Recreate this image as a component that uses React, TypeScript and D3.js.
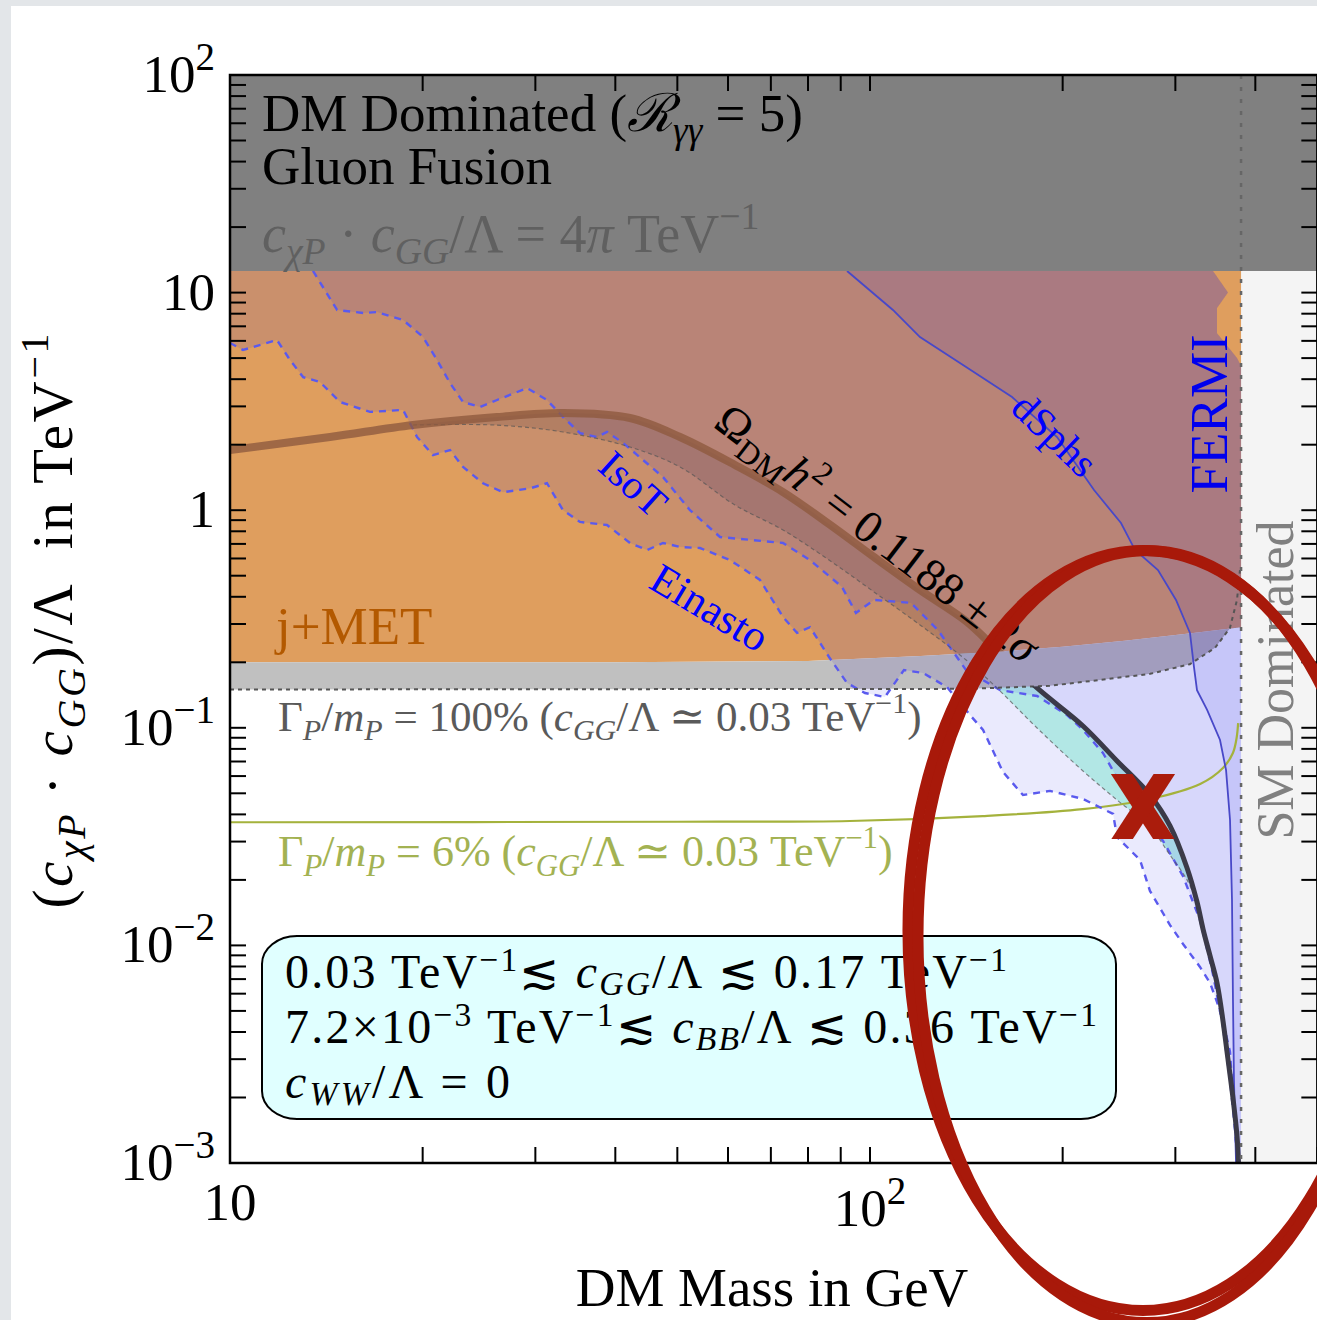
import React from 'react';
import * as d3 from 'd3';

type P = [number, number];
type Run = { t: string; i?: boolean; sub?: boolean; sup?: boolean };

// ---------------- data (mass in GeV, coupling in TeV^-1) ----------------
const xDomain: P = [10, 500];
const yDomain: P = [1e-3, 1e2];
const perturbLimit = 12.57; // 4*pi
const fermiCut = 380;

const relicLine: P[] = [
  [10, 1.891], [14.33, 2.169], [19.32, 2.464], [26.14, 2.681], [33.14, 2.797], [42.17, 2.653],
  [50.49, 2.169], [61.52, 1.613], [73.13, 1.212], [86.29, 0.864], [101.45, 0.609], [119.7, 0.43],
  [141.3, 0.3095], [157.9, 0.2278], [182.4, 0.1524], [215.2, 0.1019], [243.2, 0.0704], [273.8, 0.0491],
  [294.3, 0.0354], [312.9, 0.02268], [324.3, 0.01583], [331.4, 0.01189], [339.9, 0.00894],
  [348.5, 0.00672], [356.1, 0.00449], [362.5, 0.003005], [369.1, 0.00199], [374.5, 0.00133], [376.5, 0.001],
];
const relicBandLow: P[] = [
  [19.32, 2.464], [26.14, 2.46], [33.14, 2.287], [42.17, 1.951], [50.49, 1.579], [61.52, 1.056],
  [73.13, 0.811], [86.29, 0.59], [101.45, 0.421], [119.7, 0.297], [141.3, 0.205], [157.9, 0.1524],
  [182.4, 0.0998], [215.2, 0.0633], [243.2, 0.0466], [273.8, 0.035], [294.3, 0.026], [312.9, 0.02],
  [324.3, 0.01583],
];
const orangeBottom: P[] = [
  [10, 0.2], [40, 0.2], [80, 0.203], [120, 0.214], [160, 0.224], [200, 0.236], [250, 0.251], [320, 0.273], [380, 0.29],
];
const gammaLine: P[] = [
  [10, 0.15], [143, 0.151], [191, 0.156], [229, 0.166], [274, 0.177], [316, 0.196], [346, 0.233],
  [365, 0.287], [374.5, 0.387], [378.5, 0.53],
];
const einastoLine: P[] = [
  [10, 5.87], [10.48, 5.45], [11.84, 6.06], [12.41, 4.9], [13.01, 4.09], [13.82, 3.88], [14.86, 3.14],
  [16.55, 2.83], [18.64, 2.89], [19.6, 2.17], [20.76, 1.79], [22.07, 1.89], [23.13, 1.58], [24.85, 1.33],
  [26.7, 1.21], [29.43, 1.26], [31.28, 1.33], [33.14, 1.0], [35.23, 0.883], [38.82, 0.855], [42.17, 0.707],
  [44.83, 0.656], [47.49, 0.707], [50.49, 0.678], [54.25, 0.67], [60.43, 0.59], [67.32, 0.478],
  [73.13, 0.323], [76.9, 0.273], [80.58, 0.29], [86.29, 0.2115], [92.07, 0.1607], [98.22, 0.1445],
  [105.5, 0.1385], [113.0, 0.1843], [121.0, 0.1786], [131.9, 0.154], [143.3, 0.1145], [150.2, 0.0977],
  [161.4, 0.0626], [173.4, 0.0491], [191.1, 0.0513], [215.2, 0.0471], [239.8, 0.0402], [243.2, 0.0315],
  [264.2, 0.0247], [273.8, 0.0178], [294.3, 0.0124], [308.4, 0.01015], [327.8, 0.00796], [339.9, 0.00672],
  [348.5, 0.00549], [356.1, 0.00449], [365.2, 0.00324], [369.1, 0.00199], [374.5, 0.00109], [375.8, 0.001],
];
const isoTLine: P[] = [
  [13.48, 12.57], [14.7, 8.32], [16.14, 8.06], [16.97, 8.14], [18.64, 7.48], [20.03, 6.25], [21.06, 4.9],
  [22.07, 3.84], [23.13, 3.14], [24.58, 2.98], [26.14, 3.21], [29.12, 3.64], [31.28, 3.21], [33.14, 2.68],
  [35.23, 2.26], [37.45, 2.17], [38.82, 2.29], [41.12, 2.04], [47.49, 1.42], [52.33, 1.0], [58.3, 0.753],
  [73.13, 0.707], [80.58, 0.59], [90.42, 0.444], [95.08, 0.337], [101.45, 0.387], [115.9, 0.375],
  [127.7, 0.281], [141.3, 0.184], [159.7, 0.149], [182.4, 0.14], [203.2, 0.1145], [215.2, 0.0977],
  [231.2, 0.0766], [252.1, 0.0491], [267.1, 0.0402], [287.0, 0.0302], [308.4, 0.0208], [327.8, 0.01308],
  [342.4, 0.0077], [354.8, 0.00454], [365.2, 0.00241], [371.8, 0.00142], [375.8, 0.001],
];
const dsphsLine: P[] = [
  [92.07, 12.57], [108.6, 8.32], [119.7, 6.25], [141.3, 4.55], [166.7, 3.31], [196.0, 2.17], [223.9, 1.238],
  [246.7, 0.873], [259.5, 0.656], [281.8, 0.531], [300.7, 0.387], [316.2, 0.273], [320.8, 0.19],
  [324.3, 0.149], [336.3, 0.1208], [352.3, 0.0879], [360.0, 0.064], [365.2, 0.0377], [367.8, 0.0162],
  [369.1, 0.00561], [370.4, 0.00241], [373.2, 0.001],
];
const fermiEdge: P[] = [
  [380, 0.001], [380, 4.6], [374.5, 5.0], [348.5, 6.5], [348.5, 8.5], [362.5, 10.0], [343.5, 12.57],
];
const greenLine: P[] = [
  [10, 0.0368], [50, 0.037], [93, 0.0373], [150, 0.0393], [215, 0.0423], [274, 0.0471], [328, 0.0552],
  [356, 0.0654], [369, 0.0766], [374, 0.09], [376, 0.105],
];
const crossPoint: P = [267, 0.0433];
const circledPoint: P = [267, 0.0117];

const xTickLabels = [{ v: 10, base: '10', exp: '' }, { v: 100, base: '10', exp: '2' }];
const yTickLabels = [
  { v: 100, base: '10', exp: '2' }, { v: 10, base: '10', exp: '' }, { v: 1, base: '1', exp: '' },
  { v: 0.1, base: '10', exp: '−1' }, { v: 0.01, base: '10', exp: '−2' }, { v: 0.001, base: '10', exp: '−3' },
];

const title1: Run[] = [{ t: 'DM Dominated (' }, { t: 'ℛ', i: true }, { t: 'γγ', i: true, sub: true }, { t: ' = 5)' }];
const title2: Run[] = [{ t: 'Gluon Fusion' }];
const pertLabel: Run[] = [
  { t: 'c', i: true }, { t: 'χP', i: true, sub: true }, { t: ' · ' }, { t: 'c', i: true }, { t: 'GG', i: true, sub: true },
  { t: '/Λ = 4' }, { t: 'π', i: true }, { t: ' TeV' }, { t: '−1', sup: true },
];
const width100: Run[] = [
  { t: 'Γ' }, { t: 'P', i: true, sub: true }, { t: '/' }, { t: 'm', i: true }, { t: 'P', i: true, sub: true },
  { t: ' = 100% (' }, { t: 'c', i: true }, { t: 'GG', i: true, sub: true }, { t: '/Λ ≃ 0.03 TeV' }, { t: '−1', sup: true }, { t: ')' },
];
const width6: Run[] = [
  { t: 'Γ' }, { t: 'P', i: true, sub: true }, { t: '/' }, { t: 'm', i: true }, { t: 'P', i: true, sub: true },
  { t: ' = 6% (' }, { t: 'c', i: true }, { t: 'GG', i: true, sub: true }, { t: '/Λ ≃ 0.03 TeV' }, { t: '−1', sup: true }, { t: ')' },
];
const relicLabel: Run[] = [
  { t: 'Ω' }, { t: 'DM', sub: true }, { t: 'h', i: true }, { t: '2', sup: true }, { t: ' = 0.1188 ± 2' }, { t: 'σ', i: true },
];
const boxLines: Run[][] = [
  [{ t: '0.03 TeV' }, { t: '−1', sup: true }, { t: '≲ ' }, { t: 'c', i: true }, { t: 'GG', i: true, sub: true }, { t: '/Λ ≲ 0.17 TeV' }, { t: '−1', sup: true }],
  [{ t: '7.2×10' }, { t: '−3', sup: true }, { t: ' TeV' }, { t: '−1', sup: true }, { t: '≲ ' }, { t: 'c', i: true }, { t: 'BB', i: true, sub: true }, { t: '/Λ ≲ 0.36 TeV' }, { t: '−1', sup: true }],
  [{ t: 'c', i: true }, { t: 'WW', i: true, sub: true }, { t: '/Λ = 0' }],
];
const boxLineWidths = [722, 812, 225];
const yTitle: Run[] = [
  { t: '(' }, { t: 'c', i: true }, { t: 'χP', i: true, sub: true }, { t: ' · ' }, { t: 'c', i: true }, { t: 'GG', i: true, sub: true },
  { t: ')/Λ  in TeV' }, { t: '−1', sup: true },
];

const FONT = "'Liberation Serif','Times New Roman',Times,'DejaVu Serif',serif";

function rich(runs: Run[], fs: number, subK = 0.22, supK = 0.42) {
  let cur = 0;
  return runs.map((r, k) => {
    const target = r.sub ? subK * fs : r.sup ? -supK * fs : 0;
    const dy = target - cur;
    cur = target;
    return (
      <tspan key={k} dy={dy} fontStyle={r.i ? 'italic' : 'normal'} fontSize={r.sub || r.sup ? 0.7 * fs : fs}>
        {r.t}
      </tspan>
    );
  });
}

export default function App() {
  const X0 = 230;
  const x = d3.scaleLog().domain(xDomain).range([X0, X0 + 640 * Math.log10(xDomain[1] / xDomain[0])]);
  const y = d3.scaleLog().domain(yDomain).range([1163, 75]);
  const [xl, xr] = x.range();
  const [yb, yt] = y.range();

  const lin = d3.line<P>().x((d) => x(d[0])).y((d) => y(d[1]));
  const smooth = d3.line<P>().x((d) => x(d[0])).y((d) => y(d[1])).curve(d3.curveCatmullRom.alpha(0.5));
  const poly = (pts: P[]) => (lin(pts) as string) + 'Z';

  const orangeLowAt = d3.scaleLog().domain(orangeBottom.map((p) => p[0])).range(orangeBottom.map((p) => p[1])).clamp(true);
  const grayBottom: P[] = gammaLine.map(([m, v]) => [m, Math.min(v, orangeLowAt(m))] as P);

  const orangePoly = poly([[xDomain[0], perturbLimit], ...orangeBottom, [fermiCut, perturbLimit]]);
  const grayPoly = poly([...orangeBottom, ...grayBottom.slice().reverse()]);
  const upperZone = poly([[xDomain[0], yDomain[1]], [xDomain[1], yDomain[1]], [xDomain[1], 0.29], ...grayBottom.slice().reverse()]);
  const lowerZone = poly([...grayBottom, [xDomain[1], 0.29], [xDomain[1], yDomain[0]], [xDomain[0], yDomain[0]]]);

  const einastoPoly = poly([...einastoLine, ...fermiEdge, [xDomain[0], perturbLimit]]);
  const isoTPoly = poly([...isoTLine, ...fermiEdge]);
  const dsphsPoly = poly([...dsphsLine, ...fermiEdge]);
  const overlays = [einastoPoly, isoTPoly, dsphsPoly];

  const bandPts = relicBandLow.map(([m, lo]) => ({ m, lo, hi: (relicLine.find((p) => p[0] === m) as P)[1] }));
  const band = d3
    .area<{ m: number; lo: number; hi: number }>()
    .x((d) => x(d.m))
    .y0((d) => y(d.lo))
    .y1((d) => y(d.hi))
    .curve(d3.curveCatmullRom.alpha(0.5))(bandPts) as string;

  const xt = x.ticks();
  const yTicks = y.ticks();
  const TL = 16;

  const cx = x(crossPoint[0]);
  const cy = y(crossPoint[1]);
  const ex = x(circledPoint[0]);
  const ey = y(circledPoint[1]);

  return (
    <div>
      <style>{`body{margin:0;} svg text{white-space:pre;}`}</style>
      <svg width={1317} height={1320} style={{ display: 'block' }} fontFamily={FONT}>
        <defs>
          <clipPath id="plot"><rect x={xl} y={yt} width={xr - xl} height={yb - yt} /></clipPath>
          <clipPath id="upper"><path d={upperZone} /></clipPath>
          <clipPath id="lower"><path d={lowerZone} /></clipPath>
          <clipPath id="orange"><path d={orangePoly} /></clipPath>
          <clipPath id="xmark"><rect x={cx - 40} y={cy - 33} width={80} height={65} /></clipPath>
        </defs>
        <rect width={1317} height={1320} fill="#e3e6e9" />
        <rect x={11} y={6} width={1306} height={1314} fill="#ffffff" />

        <g clipPath="url(#plot)">
          {/* SM dominated */}
          <rect x={x(fermiCut)} y={y(perturbLimit)} width={xr - x(fermiCut)} height={yb - y(perturbLimit)} fill="#f4f4f4" />
          {/* relic band */}
          <path d={band} fill="rgb(192,252,228)" />
          {/* j+MET */}
          <path d={orangePoly} fill="#df9e5e" />
          <path d={grayPoly} fill="#c0c0c0" />
          <path d={band} fill="rgba(90,60,45,0.2)" clipPath="url(#orange)" />
          {/* indirect detection overlays */}
          <g clipPath="url(#upper)">
            {overlays.map((d, k) => (
              <path key={k} d={d} fill="rgb(85,65,190)" fillOpacity={0.15} />
            ))}
          </g>
          <g clipPath="url(#lower)">
            {overlays.map((d, k) => (
              <path key={k} d={d} fill="rgb(85,85,235)" fillOpacity={0.12} />
            ))}
          </g>
          {/* 6% width line */}
          <path d={smooth(greenLine) as string} fill="none" stroke="#a4b23c" strokeWidth={2.2} />
          {/* dashed halo profiles */}
          <path d={lin(einastoLine) as string} fill="none" stroke="#5a5aee" strokeWidth={2.4} strokeDasharray="7 6" />
          <path d={lin(isoTLine) as string} fill="none" stroke="#5a5aee" strokeWidth={2.4} strokeDasharray="7 6" />
          <path d={lin(dsphsLine) as string} fill="none" stroke="#4848c8" strokeWidth={1.8} />
          {/* width = 100% boundary */}
          <path d={lin(gammaLine) as string} fill="none" stroke="#555" strokeWidth={2} strokeDasharray="4 4" />
          {/* relic band lower edge */}
          <path d={smooth(relicBandLow) as string} fill="none" stroke="#555" strokeOpacity={0.7} strokeWidth={1.2} strokeDasharray="4 3" />
          {/* relic line */}
          <path d={smooth(relicLine) as string} fill="none" stroke="#8f5a3e" strokeOpacity={0.8} strokeWidth={8} clipPath="url(#orange)" />
          <path d={smooth(relicLine) as string} fill="none" stroke="#3b3a48" strokeWidth={5} clipPath="url(#lower)" />
          {/* DM dominated top band */}
          <rect x={xl} y={yt} width={xr - xl} height={y(perturbLimit) - yt} fill="#808080" />
          {/* fermi cut */}
          <line x1={x(fermiCut)} x2={x(fermiCut)} y1={yt} y2={yb} stroke="#666" strokeWidth={2.5} strokeDasharray="4 8" />
        </g>

        {/* frame */}
        <rect x={xl} y={yt} width={xr - xl} height={yb - yt} fill="none" stroke="#000" strokeWidth={2.5} />
        {xt.map((v, k) => (
          <g key={'xt' + k}>
            <line x1={x(v)} x2={x(v)} y1={yb} y2={yb - TL} stroke="#000" strokeWidth={2} />
            <line x1={x(v)} x2={x(v)} y1={yt} y2={yt + TL} stroke="#000" strokeWidth={2} />
          </g>
        ))}
        {yTicks.map((v, k) => (
          <g key={'yt' + k}>
            <line x1={xl} x2={xl + TL} y1={y(v)} y2={y(v)} stroke="#000" strokeWidth={2} />
            <line x1={xr} x2={xr - TL} y1={y(v)} y2={y(v)} stroke="#000" strokeWidth={2} />
          </g>
        ))}

        {/* tick labels */}
        {yTickLabels.map((t, k) => (
          <text key={'yl' + k} x={215} y={y(t.v) + 17} fontSize={53} textAnchor="end">
            <tspan>{t.base}</tspan>
            {t.exp && <tspan dy={-22} fontSize={39}>{t.exp}</tspan>}
          </text>
        ))}
        {xTickLabels.map((t, k) => (
          <text key={'xl' + k} x={x(t.v)} y={t.exp ? 1226 : 1220} fontSize={53} textAnchor="middle">
            <tspan>{t.base}</tspan>
            {t.exp && <tspan dy={-22} fontSize={39}>{t.exp}</tspan>}
          </text>
        ))}
        <text x={772} y={1306} fontSize={55} textAnchor="middle">DM Mass in GeV</text>
        <text transform="translate(72,621) rotate(-90)" fontSize={57} textAnchor="middle" textLength={575} lengthAdjust="spacing">{rich(yTitle, 57)}</text>

        {/* region labels */}
        <text x={262} y={131} fontSize={53}>{rich(title1, 53)}</text>
        <text x={262} y={184} fontSize={53}>{rich(title2, 53)}</text>
        <text x={262} y={252} fontSize={54} fill="#606060">{rich(pertLabel, 54)}</text>
        <text x={276} y={644} fontSize={53} fill="#b35900">j+MET</text>
        <text x={278} y={731} fontSize={43} fill="#5a5a5a">{rich(width100, 43)}</text>
        <text x={278} y={866} fontSize={44} fill="#a3b252">{rich(width6, 44)}</text>
        <text transform="translate(712,426) rotate(37.5)" fontSize={46} fill="#000">{rich(relicLabel, 46)}</text>
        <text transform="translate(596,469) rotate(42)" fontSize={41} fill="#0000ff">IsoT</text>
        <text transform="translate(647,587) rotate(31)" fontSize={43} fill="#0000ff">Einasto</text>
        <text transform="translate(1009,410) rotate(44)" fontSize={41} fill="#0000ff">dSphs</text>
        <text transform="translate(1227,414) rotate(-90)" fontSize={52} fill="#0000ee" textAnchor="middle">FERMI</text>
        <text transform="translate(1293,680) rotate(-90)" fontSize={52} fill="#808080" textAnchor="middle">SM Dominated</text>

        {/* info box */}
        <rect x={262} y={936} width={854} height={183} rx={35} ry={28} fill="#e0ffff" stroke="#000" strokeWidth={2} />
        {boxLines.map((ln, k) => (
          <text key={'bl' + k} x={285} y={988 + k * 55} fontSize={48} textLength={boxLineWidths[k]} lengthAdjust="spacing">{rich(ln, 48, 0.14, 0.36)}</text>
        ))}

        {/* red annotations */}
        <ellipse cx={ex} cy={ey} rx={235} ry={380} fill="none" stroke="#a8190a" strokeWidth={11} />
        <ellipse cx={ex + 4} cy={ey + 6} rx={229} ry={386} fill="none" stroke="#a8190a" strokeWidth={11} />
        <g clipPath="url(#xmark)">
          <line x1={cx - 26} y1={cy - 40} x2={cx + 26} y2={cy + 40} stroke="#aa1c0c" strokeWidth={18} />
          <line x1={cx + 26} y1={cy - 40} x2={cx - 26} y2={cy + 40} stroke="#aa1c0c" strokeWidth={18} />
        </g>
      </svg>
    </div>
  );
}
